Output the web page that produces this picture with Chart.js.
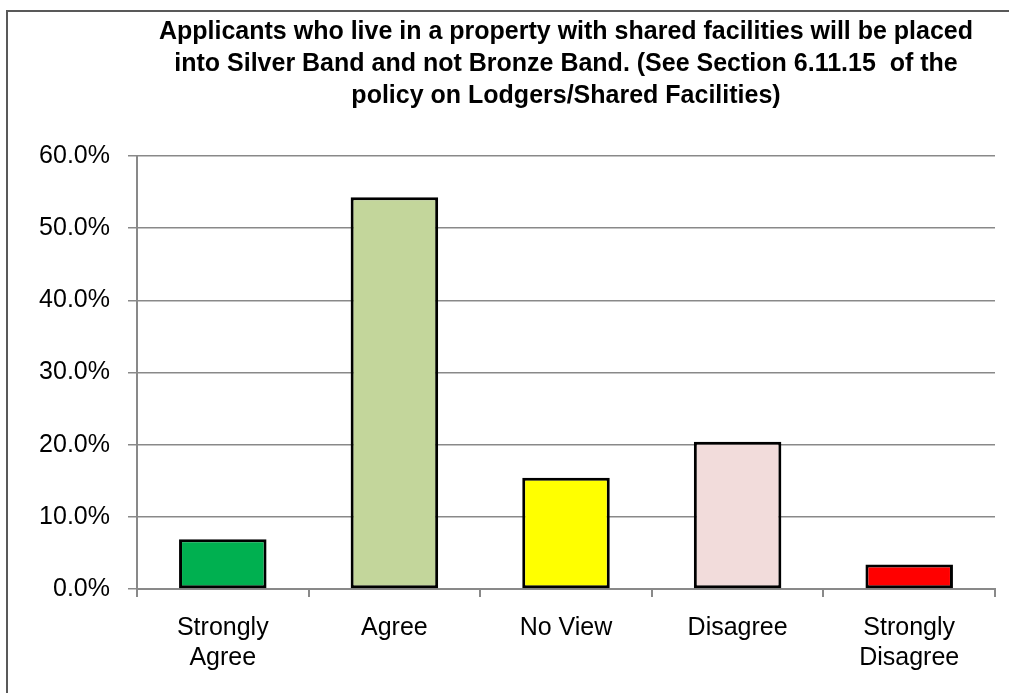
<!DOCTYPE html>
<html>
<head>
<meta charset="utf-8">
<script src="https://cdn.jsdelivr.net/npm/chart.js@4"></script>
<style>
  html, body { margin: 0; padding: 0; background: #fff; overflow: hidden; }
  #wrap { position: relative; width: 1009px; height: 693px; }
  #frame { position: absolute; left: 6px; top: 10px; width: 1100px; height: 800px; border: 2px solid #595959; pointer-events: none; }
  canvas { position: absolute; left: 0; top: 0; }
</style>
</head>
<body>
<div id="wrap">
  <div id="frame"></div>
  <canvas id="chart" width="1009" height="693"></canvas>
</div>
<script>
// Survey response shares (percent)
const categories = [['Strongly', 'Agree'], 'Agree', 'No View', 'Disagree', ['Strongly', 'Disagree']];
const shares = [6.9, 54.3, 15.4, 20.4, 3.4];
const barColours = ['#00B050', '#C3D69B', '#FFFF00', '#F2DCDB', '#FF0000'];
const titleLines = [
  'Applicants who live in a property with shared facilities will be placed',
  'into Silver Band and not Bronze Band. (See Section 6.11.15  of the',
  'policy on Lodgers/Shared Facilities)'
];

const font = 'Liberation Sans, Arial, sans-serif';

new Chart(document.getElementById('chart'), {
  type: 'bar',
  data: {
    labels: categories,
    datasets: [{
      data: shares,
      backgroundColor: barColours,
      borderColor: '#000',
      borderWidth: 3,
      borderSkipped: false,
      categoryPercentage: 1,
      barPercentage: 0.51
    }]
  },
  options: {
    responsive: false,
    animation: false,
    layout: { padding: { left: 0, right: 14, top: 0, bottom: 0 } },
    plugins: {
      legend: { display: false },
      tooltip: { enabled: false },
      title: {
        display: true,
        text: titleLines,
        fullSize: false,
        color: '#000',
        font: { family: font, size: 25, weight: 'bold', lineHeight: 1.28 },
        padding: { top: 16, bottom: 44 }
      }
    },
    scales: {
      x: {
        grid: { display: true, drawOnChartArea: false, color: '#898989', lineWidth: 2, tickLength: 8 },
        border: { color: '#898989', width: 2 },
        ticks: { color: '#000', font: { family: font, size: 25, lineHeight: 1.2 }, padding: 16, maxRotation: 0 },
        afterFit: scale => { scale.height = 104; }
      },
      y: {
        min: 0,
        max: 60,
        grid: { color: '#898989', lineWidth: 1.5, tickLength: 9 },
        border: { color: '#898989', width: 2 },
        ticks: {
          stepSize: 10,
          color: '#000',
          font: { family: font, size: 25 },
          padding: 18,
          callback: v => v.toFixed(1) + '%'
        },
        afterFit: scale => { scale.width = 137; }
      }
    }
  }
});
</script>
</body>
</html>
